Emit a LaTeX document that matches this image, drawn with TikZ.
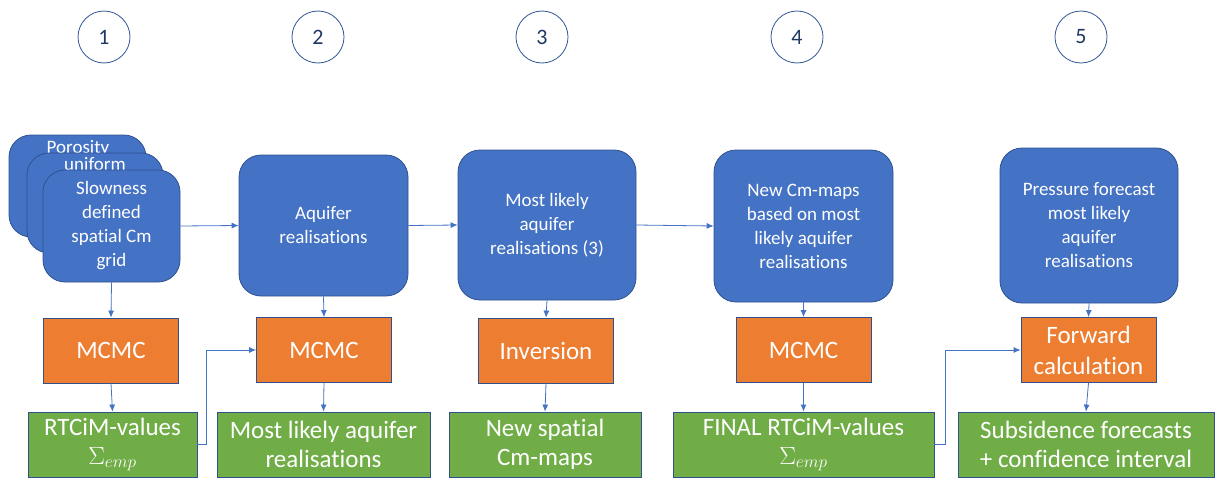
\documentclass[tikz,border=0pt]{standalone}
\usepackage{fontspec}
\setmainfont{Carlito}[Ligatures=NoCommon]
\usetikzlibrary{arrows.meta}
\definecolor{boxblue}{HTML}{4472C4}
\definecolor{edgeblue}{HTML}{2F528F}
\definecolor{boxorange}{HTML}{ED7D31}
\definecolor{boxgreen}{HTML}{70AD47}
\definecolor{numblue}{HTML}{1F3864}
\definecolor{ringblue}{HTML}{2F5597}
\begin{document}
\begin{tikzpicture}[x=1pt, y=-1pt]
\tikzstyle{stage}=[draw=ringblue, circle, line width=0.8pt, minimum size=52pt, inner sep=0pt, text=numblue, font=\fontsize{22}{26}\selectfont]
\tikzstyle{model}=[draw=edgeblue, fill=boxblue, rounded corners=22pt, line width=0.8pt, text=white, align=center, inner sep=0pt, font=\fontsize{19}{24}\selectfont]
\tikzstyle{calc}=[draw=edgeblue, fill=boxorange, line width=0.8pt, text=white, align=center, inner sep=0pt, minimum width=135pt, minimum height=65pt, font=\fontsize{25}{31}\selectfont]
\tikzstyle{result}=[draw=edgeblue, fill=boxgreen, line width=0.8pt, text=white, align=center, inner sep=0pt, minimum height=65pt, font=\fontsize{25}{29}\selectfont]
\tikzstyle{flow}=[draw=boxblue, line width=0.8pt, -{Latex[length=7pt,width=6pt]}]
\useasboundingbox (0,0) rectangle (1216,479);
% step numbers
\node[stage] (s1) at (104,37) {1};
\node[stage] (s2) at (318,37) {2};
\node[stage] (s3) at (542,37) {3};
\node[stage] (s4) at (797,37) {4};
\node[stage] (s5) at (1081,37) {5};
% stacked input grids
\node[model, minimum width=137pt, minimum height=102pt] (por) at (77.5,186) {};
\node[text=white, font=\fontsize{19}{24}\selectfont] (portext) at (78,148) {Porosity};
\node[model, minimum width=136pt, minimum height=100pt] (uni) at (95,203) {};
\node[text=white, font=\fontsize{19}{24}\selectfont] (unitext) at (95,164) {uniform};
\node[model, minimum width=137pt, minimum height=112pt] (slow) at (111.5,226) {Slowness\\defined\\spatial Cm\\grid};
% models
\node[model, minimum width=169pt, minimum height=141pt] (b2) at (323.5,225.5) {Aquifer\\realisations};
\node[model, minimum width=178pt, minimum height=150pt] (b3) at (547,225) {Most likely\\aquifer\\realisations (3)};
\node[model, minimum width=179pt, minimum height=152pt] (b4) at (803.5,226) {New Cm-maps\\based on most\\likely aquifer\\realisations};
\node[model, minimum width=178pt, minimum height=155pt] (b5) at (1089,225.5) {Pressure forecast\\most likely\\aquifer\\realisations};
% calculations
\node[calc] (o1) at (111,350.5) {MCMC};
\node[calc] (o2) at (324,350) {MCMC};
\node[calc] (o3) at (546,350.5) {Inversion};
\node[calc] (o4) at (803.5,350) {MCMC};
\node[calc] (o5) at (1088.5,350) {Forward\\calculation};
% results
\node[result, minimum width=169pt] (g1) at (112.5,444.5) {RTCiM-values\\$\Sigma_{emp}$};
\node[result, minimum width=213pt] (g2) at (323.5,444.5) {Most likely aquifer\\realisations};
\node[result, minimum width=192pt] (g3) at (545,444.5) {New spatial\\Cm-maps};
\node[result, minimum width=261pt] (g4) at (803.5,444.5) {FINAL RTCiM-values\\$\Sigma_{emp}$};
\node[result, minimum width=256pt] (g5) at (1086,444.5) {Subsidence forecasts\\+ confidence interval};
\draw[flow] (slow.east) -- (b2.west);
\draw[flow] (b2.east) -- (b3.west);
\draw[flow] (b3.east) -- (b4.west);
\draw[flow] (slow.south) -- (o1.north);
\draw[flow] (o1.south) -- (g1.north);
\draw[flow] (b2.south) -- (o2.north);
\draw[flow] (o2.south) -- (g2.north);
\draw[flow] (b3.south) -- (o3.north);
\draw[flow] (o3.south) -- (g3.north);
\draw[flow] (b4.south) -- (o4.north);
\draw[flow] (o4.south) -- (g4.north);
\draw[flow] (b5.south) -- (o5.north);
\draw[flow] (o5.south) -- (g5.north);
\draw[flow] (g1.east) -- ++(9,0) |- (o2.west);
\draw[flow] (g4.east) -- ++(11,0) |- (o5.west);
\end{tikzpicture}
\end{document}
